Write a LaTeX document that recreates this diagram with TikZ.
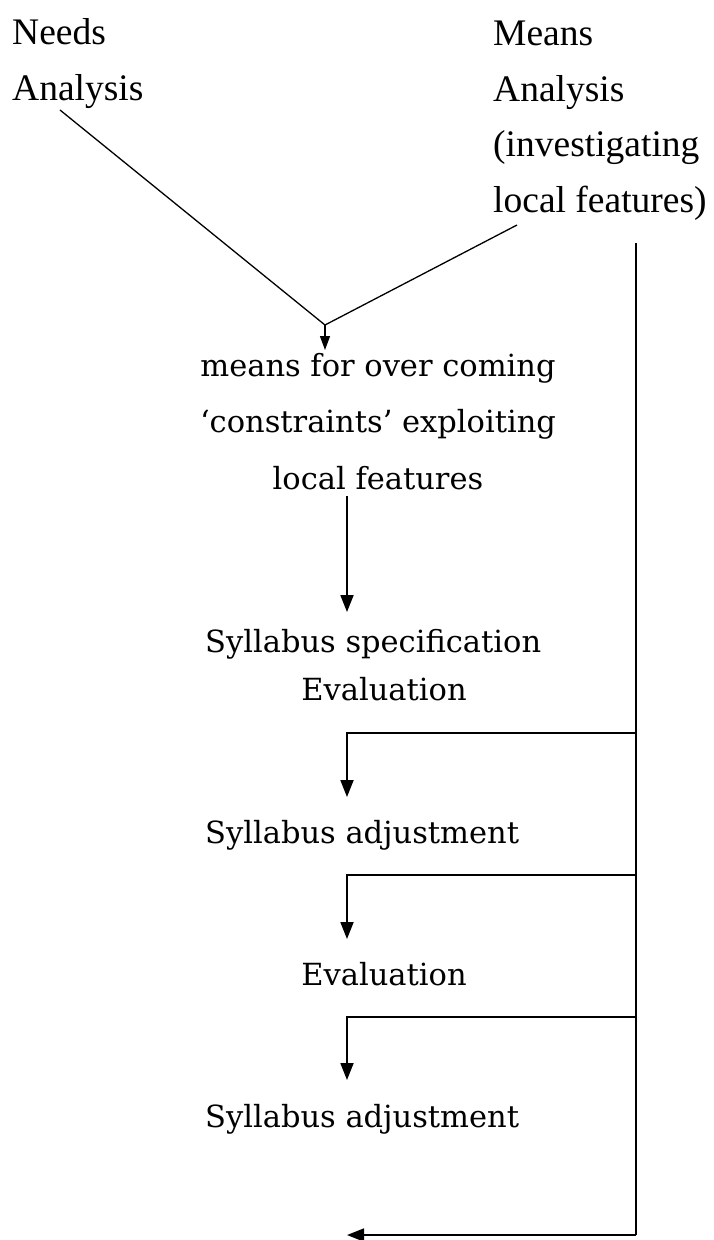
\documentclass[tikz,border=0pt]{standalone}
\usepackage{fontspec}
\setmainfont{DejaVu Serif}
\newfontfamily\topfont{Liberation Serif}
\usetikzlibrary{arrows.meta}

\tikzset{
  link/.style={line width=1.3pt},
  flow/.style={line width=1.8pt, -{Triangle[width=13pt,length=17pt]}},
  toplabel/.style={font=\topfont\fontsize{37.5}{55.5}\selectfont, align=left, inner sep=0pt},
  stage/.style={font=\fontsize{30.5}{56.5}\selectfont, inner sep=0pt},
}

\begin{document}
\begin{tikzpicture}[x=1pt,y=-1pt]
  \useasboundingbox (0,0) rectangle (713,1240);
  % the two analyses (base = last line)
  \node[toplabel, anchor=base west] (needs) at (12,100) {Needs\\Analysis};
  \node[toplabel, anchor=base west] (means) at (493,212) {Means\\Analysis\\(investigating\\local features)};
  \coordinate (needsfoot) at (60,110);
  \coordinate (meansfoot) at (517,225);
  \coordinate (join) at (325,325);
  \draw[link] (needsfoot) -- (join) -- (meansfoot);

  % main sequence
  \node[stage, align=center, anchor=base] (overcome) at (378,489) {means for over coming\\‘constraints’ exploiting\\local features};
  \node[stage, anchor=base west] (spec) at (205,652) {Syllabus specification};
  \node[stage, anchor=base] (evalA) at (384,700) {Evaluation};
  \node[stage, anchor=base west] (adjA) at (205,843) {Syllabus adjustment};
  \node[stage, anchor=base] (evalB) at (384,985) {Evaluation};
  \node[stage, anchor=base west] (adjB) at (205,1127) {Syllabus adjustment};

  \draw[link, -{Triangle[width=10pt,length=14pt]}] (join) -- (325,350);
  \draw[flow] (347,496) -- (347,612);

  % feedback rail from the means analysis
  \coordinate (railtop) at (636,243);
  \coordinate (railend) at (636,1235);
  \coordinate (tapA) at (636,733);
  \coordinate (tapB) at (636,875);
  \coordinate (tapC) at (636,1017);
  \draw[line width=1.8pt] (railtop) -- (railend);
  \draw[flow] (tapA) -| (347,797);
  \draw[flow] (tapB) -| (347,939);
  \draw[flow] (tapC) -| (347,1080);
  \draw[flow] (railend) -- (347,1235);
\end{tikzpicture}
\end{document}
